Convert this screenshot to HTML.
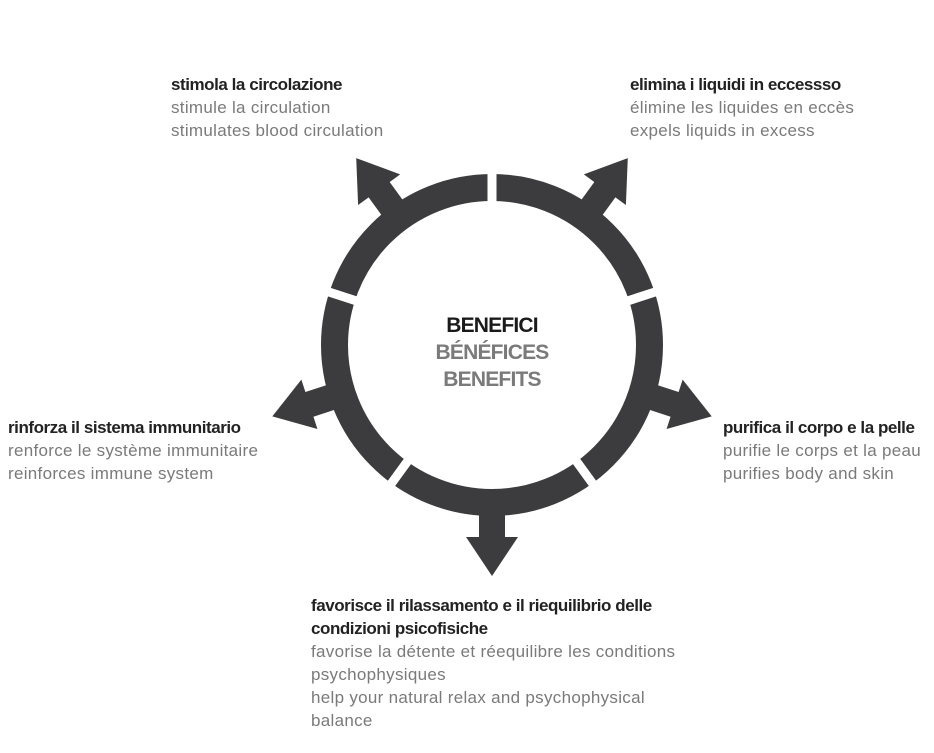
<!DOCTYPE html>
<html><head><meta charset="utf-8"><style>
html,body{margin:0;padding:0;background:#fff;width:934px;height:753px;overflow:hidden;position:relative;font-family:"Liberation Sans",sans-serif}
.t{position:absolute;font-size:17px;line-height:23px;letter-spacing:0.3px;color:#7a7a7a;white-space:nowrap}
.t b{color:#222;font-weight:bold;letter-spacing:-0.45px}
</style></head><body>
<svg width="934" height="753" style="position:absolute;left:0;top:0">
<g transform="translate(492,345)">
<circle r="157.5" fill="none" stroke="#3c3c3e" stroke-width="27"/>
<g fill="#3c3c3e">
<g transform="rotate(0)"><rect x="-13" y="160" width="26" height="34"/><polygon points="-26,192 26,192 0,231"/></g>
<g transform="rotate(-72)"><rect x="-13" y="160" width="26" height="34"/><polygon points="-26,192 26,192 0,231"/></g>
<g transform="rotate(72)"><rect x="-13" y="160" width="26" height="34"/><polygon points="-26,192 26,192 0,231"/></g>
<g transform="rotate(144)"><rect x="-13" y="160" width="26" height="34"/><polygon points="-26,192 26,192 0,231"/></g>
<g transform="rotate(-144)"><rect x="-13" y="160" width="26" height="34"/><polygon points="-26,192 26,192 0,231"/></g>
</g>
<g stroke="#fff" stroke-width="9">
<line x1="0" y1="-135" x2="0" y2="-180"/>
<line x1="0" y1="-135" x2="0" y2="-180" transform="rotate(72)"/>
<line x1="0" y1="-135" x2="0" y2="-180" transform="rotate(144)"/>
<line x1="0" y1="-135" x2="0" y2="-180" transform="rotate(-72)"/>
<line x1="0" y1="-135" x2="0" y2="-180" transform="rotate(-144)"/>
</g>
<g font-family="Liberation Sans, sans-serif" font-size="21" text-anchor="middle" letter-spacing="-0.8">
<text x="0" y="-13" fill="#1a1a1a" font-weight="bold">BENEFICI</text>
<text x="0" y="14" fill="#7a7a7a" font-weight="bold">BÉNÉFICES</text>
<text x="0" y="41" fill="#7a7a7a" font-weight="bold">BENEFITS</text>
</g>
</g>
</svg>
<div class="t" style="left:171px;top:73px"><b>stimola la circolazione</b><br>stimule la circulation<br>stimulates blood circulation</div>
<div class="t" style="left:630px;top:73px"><b>elimina i liquidi in eccessso</b><br>élimine les liquides en eccès<br>expels liquids in excess</div>
<div class="t" style="left:8px;top:416px"><b>rinforza il sistema immunitario</b><br>renforce le système immunitaire<br>reinforces immune system</div>
<div class="t" style="left:723px;top:416px"><b>purifica il corpo e la pelle</b><br>purifie le corps et la peau<br>purifies body and skin</div>
<div class="t" style="left:311px;top:594px"><b>favorisce il rilassamento e il riequilibrio delle<br>condizioni psicofisiche</b><br>favorise la détente et réequilibre les conditions<br>psychophysiques<br>help your natural relax and psychophysical<br>balance</div>
</body></html>
